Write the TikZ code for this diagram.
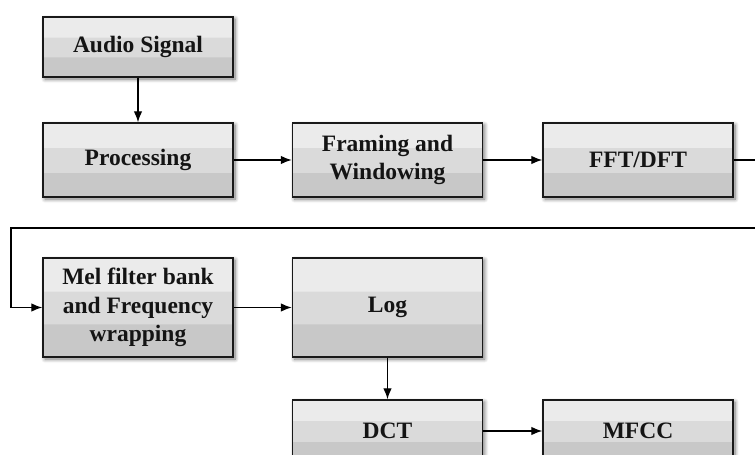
\documentclass[tikz,border=0pt]{standalone}
\usepackage{fontspec}
\setmainfont{Liberation Serif}
\usepackage{xcolor}
\usetikzlibrary{arrows.meta,shadows.blur}

\definecolor{bandtop}{HTML}{EBEBEB}
\definecolor{bandmid}{HTML}{DADADA}
\definecolor{bandbot}{HTML}{C8C8C8}
\pgfdeclareverticalshading{bands}{100bp}{color(0bp)=(bandbot); color(41.6bp)=(bandbot); color(41.7bp)=(bandmid); color(58.3bp)=(bandmid); color(58.4bp)=(bandtop); color(100bp)=(bandtop)}

\tikzset{
  block/.style={draw=black!90, line width=1.4pt, shading=bands, minimum width=190pt, minimum height=74pt,
    align=center, text=black!92, font=\fontsize{23.5}{28.5}\selectfont\bfseries,
    blur shadow={shadow xshift=2pt, shadow yshift=-2pt, shadow blur radius=4pt, shadow blur steps=8, shadow opacity=55}},
  link/.style={line width=1.3pt, -{Latex[length=11pt,width=8.5pt]}}
}

\begin{document}
\begin{tikzpicture}[x=1pt,y=-1pt]
\useasboundingbox (0,0) rectangle (755,455);
\clip (0,0) rectangle (755,455);

\node[block, minimum height=60pt] (audio) at (138,47) {Audio Signal};
\node[block] (proc) at (138,160) {Processing};
\node[block] (frame) at (387.5,160) {Framing and\\Windowing};
\node[block] (fft) at (638,160) {FFT/DFT};

\node[block, minimum height=99pt] (mel) at (138,307.5) {Mel filter bank\\and Frequency\\wrapping};
\node[block, minimum height=99pt] (log) at (387.5,307.5) {Log};

\node[block, minimum height=62pt] (dct) at (387.5,431) {DCT};
\node[block, minimum height=62pt] (mfcc) at (638,431) {MFCC};

\coordinate (loopR) at (775,228);
\coordinate (loopL) at (11,228);

\draw[link] (audio) -- (proc);
\draw[link] (proc) -- (frame);
\draw[link] (frame) -- (fft);
\draw[link] (fft.east) -| (loopR) -- (loopL) |- (mel.west);
\draw[link] (mel) -- (log);
\draw[link] (log) -- (dct);
\draw[link] (dct) -- (mfcc);

\end{tikzpicture}
\end{document}
